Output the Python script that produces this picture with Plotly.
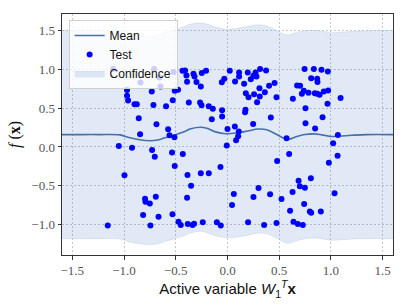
import plotly.graph_objects as go

# Test points (x = active variable, y = f(x))
test_x = [-1.106, -0.710, -0.841, -0.658, -0.648, -0.971, -0.971, -0.961, -0.899, -0.877,
          -0.732, -0.716, -0.858, -0.687, -0.845, -1.051, -0.923, -0.729, -0.703,
          -0.522, -0.435, -0.410, -0.397, -0.329, -0.319, -0.249, -0.207, -0.391, -0.300,
          -0.258, -0.510, -0.478, -0.055, -0.031, -0.529, -0.594, -0.374, -0.265, -0.251,
          -0.181, -0.142, -0.052, -0.052, -0.152, -0.574, -0.561, -0.513,
          0.022, 0.112, 0.112, 0.196, 0.271, 0.315, 0.373, 0.251, 0.280, 0.225, 0.073, 0.161,
          0.455, 0.402, 0.309, 0.177, 0.257, 0.361, 0.203, 0.312, 0.286, 0.474, 0.174, 0.170,
          0.419, 0.248, 0.071, 0.000, 0.109, 0.103, 0.083, -0.007, 0.571,
          0.745, 0.835, 0.909, 0.970, 0.809, 0.867, 0.870, 0.673, 0.702, 0.738, 0.719, 0.783,
          0.844, 0.867, 0.890, 0.931, 0.973, 0.632, 1.093, 0.967, 0.754, 0.919, 0.754, 0.847,
          1.067, 1.021,
          -0.996, -0.797, -0.793, -0.751, -0.693, -0.816, -0.667, -1.158, -0.745,
          -0.536, -0.432, -0.510, -0.387, -0.258, -0.181, -0.068, -0.352, -0.391, -0.532,
          -0.474, -0.452, -0.384, -0.338, -0.323, -0.239, -0.103, -0.065,
          0.480, 0.300, 0.061, 0.251, 0.412, 0.522, 0.044, 0.199, 0.354, 0.474,
          0.596, 1.064, 0.980, 0.806, 0.687, 0.699, 0.748, 0.629, 1.035, 0.741, 0.796, 0.809,
          0.902, 0.605, 0.638, 0.680, 0.728]
test_y = [1.001, 1.001, 0.829, 0.893, 0.777, 0.731, 0.657, 0.597, 0.550, 0.550,
          0.713, 0.541, 0.370, 0.293, 0.164, 0.013, -0.009, -0.039, -0.125,
          0.963, 0.979, 0.983, 0.919, 0.941, 0.906, 0.950, 0.979, 0.838, 0.834,
          0.777, 0.722, 0.735, 0.831, 0.876, 0.602, 0.524, 0.571, 0.571, 0.537,
          0.524, 0.490, 0.473, 0.390, 0.357, 0.228, 0.151, 0.125,
          0.979, 0.957, 0.906, 0.957, 0.957, 1.001, 0.983, 0.915, 0.906, 0.872, 0.841, 0.812,
          0.821, 0.786, 0.756, 0.692, 0.679, 0.705, 0.640, 0.648, 0.576, 0.640, 0.477, 0.447,
          0.378, 0.296, 0.262, 0.232, 0.197, 0.138, 0.086, 0.017, 0.112,
          1.001, 1.001, 0.992, 0.970, 0.885, 0.876, 0.834, 0.790, 0.786, 0.722, 0.683, 0.696,
          0.692, 0.683, 0.670, 0.713, 0.726, 0.619, 0.628, 0.554, 0.499, 0.383, 0.305, 0.236,
          0.155, 0.048,
          -0.365, -0.666, -0.705, -0.726, -0.640, -0.876, -0.898, -1.009, -1.009,
          -0.073, -0.090, -0.245, -0.361, -0.339, -0.339, -0.258, -0.499, -0.653, -0.867,
          -0.963, -1.005, -0.992, -1.005, -0.988, -0.970, -0.970, -1.009,
          -0.180, -0.528, -0.606, -0.644, -0.610, -0.670, -0.747, -0.970, -1.005, -0.979,
          -0.090, -0.112, -0.202, -0.403, -0.434, -0.506, -0.524, -0.580, -0.597, -0.735,
          -0.829, -0.847, -0.829, -0.821, -0.963, -0.992, -1.005]

# GP mean and confidence band
grid_x = [-1.60, -1.40, -1.235, -1.04, -0.964, -0.85, -0.75, -0.674, -0.606, -0.51, -0.413,
          -0.355, -0.258, -0.20, -0.123, -0.016, 0.09, 0.196, 0.293, 0.37, 0.477, 0.545,
          0.593, 0.67, 0.748, 0.835, 0.912, 1.00, 1.087, 1.20, 1.347, 1.60]
mean_y = [0.159, 0.159, 0.159, 0.155, 0.125, 0.092, 0.080, 0.090, 0.118, 0.155, 0.200,
          0.235, 0.254, 0.240, 0.197, 0.170, 0.180, 0.205, 0.230, 0.225, 0.160, 0.112,
          0.099, 0.135, 0.160, 0.168, 0.155, 0.135, 0.140, 0.150, 0.159, 0.159]
upper_y = [1.500, 1.500, 1.500, 1.495, 1.470, 1.440, 1.430, 1.445, 1.475, 1.510, 1.550,
           1.580, 1.594, 1.580, 1.545, 1.515, 1.525, 1.550, 1.570, 1.560, 1.495, 1.450,
           1.440, 1.475, 1.495, 1.500, 1.490, 1.470, 1.475, 1.485, 1.495, 1.500]
lower_y = [-1.180, -1.180, -1.180, -1.185, -1.215, -1.245, -1.255, -1.245, -1.215, -1.180,
           -1.140, -1.105, -1.085, -1.100, -1.140, -1.165, -1.160, -1.135, -1.110, -1.115,
           -1.175, -1.225, -1.240, -1.205, -1.180, -1.170, -1.180, -1.200, -1.195, -1.185,
           -1.180, -1.180]

x_ticks = [-1.5, -1.0, -0.5, 0.0, 0.5, 1.0, 1.5]
x_tick_text = ["\u22121.5", "\u22121.0", "\u22120.5", "0.0", "0.5", "1.0", "1.5"]
y_ticks = [-1.0, -0.5, 0.0, 0.5, 1.0, 1.5]
y_tick_text = ["\u22121.0", "\u22120.5", "0.0", "0.5", "1.0", "1.5"]

fig = go.Figure()
fig.add_trace(go.Scatter(x=grid_x, y=lower_y, mode="lines",
                         line=dict(width=0.6, color="rgba(176,196,222,0.6)", shape="spline"),
                         showlegend=False, hoverinfo="skip"))
fig.add_trace(go.Scatter(x=grid_x, y=upper_y, mode="lines", fill="tonexty",
                         fillcolor="rgba(60,120,190,0.16)",
                         line=dict(width=0.6, color="rgba(176,196,222,0.6)", shape="spline"),
                         name="Confidence", legendrank=3))
fig.add_trace(go.Scatter(x=grid_x, y=mean_y, mode="lines",
                         line=dict(color="#4570aa", width=1.6, shape="spline"),
                         name="Mean", legendrank=1))
fig.add_trace(go.Scatter(x=test_x, y=test_y, mode="markers",
                         marker=dict(color="#0000ff", size=6),
                         name="Test", legendrank=2))

axis_common = dict(showline=True, linecolor="#333333", linewidth=1, mirror=True,
                   ticks="outside", ticklen=3.5, tickcolor="#333333",
                   showgrid=True, gridcolor="#c8c8c8", griddash="2px,2px", gridwidth=0.8,
                   zeroline=False,
                   tickfont=dict(family="Liberation Serif, serif", size=13, color="#555555"))

fig.update_xaxes(range=[-1.6, 1.6], tickvals=x_ticks, ticktext=x_tick_text,
                 title=dict(text="Active variable <i>W</i><sub>1</sub><sup><i>T</i></sup><b>x</b>",
                            font=dict(family="Liberation Sans, sans-serif", size=15, color="#111"),
                            standoff=4),
                 **axis_common)
fig.update_yaxes(range=[-1.39, 1.71], tickvals=y_ticks, ticktext=y_tick_text,
                 title=dict(text="<i>f</i> (<b>x</b>)",
                            font=dict(family="Liberation Serif, serif", size=16, color="#111"),
                            standoff=6),
                 **axis_common)

fig.update_layout(
    width=407, height=305, autosize=False,
    margin=dict(l=62, r=14, t=14, b=50, autoexpand=False),
    plot_bgcolor="white", paper_bgcolor="white",
    legend=dict(x=0.02, y=0.975, xanchor="left", yanchor="top", traceorder="normal",
                bgcolor="rgba(255,255,255,0.8)", bordercolor="#d0d0d0", borderwidth=1,
                font=dict(family="Liberation Sans, sans-serif", size=12, color="#111"),
                itemwidth=30, tracegroupgap=0),
)

fig.write_html("out.html", config={"displayModeBar": False},
               post_script="document.body.style.margin='0';")
